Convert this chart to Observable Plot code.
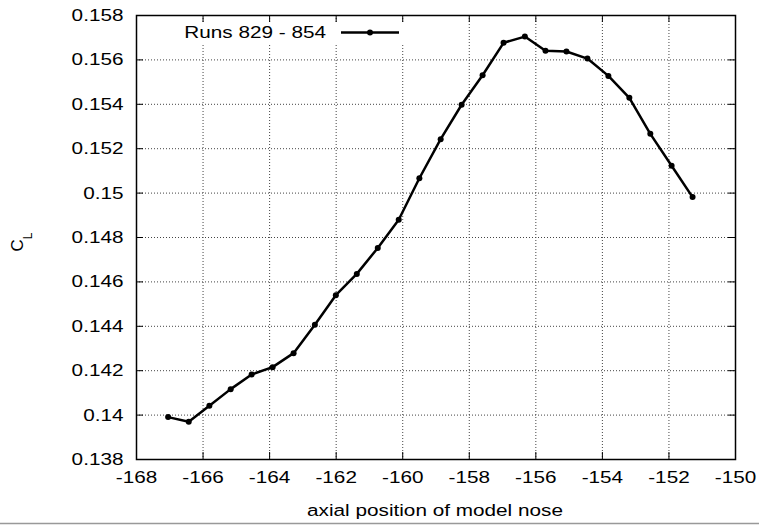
<!DOCTYPE html>
<html>
<head>
<meta charset="utf-8">
<script src="https://cdn.jsdelivr.net/npm/d3@7"></script>
<script src="https://cdn.jsdelivr.net/npm/@observablehq/plot@0.6"></script>
<style>
  html, body { margin: 0; padding: 0; background: #fff; }
  #chart svg { display: block; }
</style>
</head>
<body>
<div id="chart"></div>
<script>
const xPos = [-167.05, -166.43, -165.81, -165.17, -164.54, -163.91, -163.28, -162.64, -162.01, -161.38, -160.75, -160.12, -159.50, -158.86, -158.23, -157.60, -156.97, -156.33, -155.71, -155.08, -154.45, -153.82, -153.19, -152.56, -151.92, -151.29];
const cl = [0.13991, 0.13970, 0.14042, 0.14117, 0.14183, 0.14216, 0.14279, 0.14407, 0.14540, 0.14636, 0.14753, 0.14880, 0.15067, 0.15243, 0.15398, 0.15531, 0.15677, 0.15705, 0.15641, 0.15638, 0.15606, 0.15528, 0.15429, 0.15267, 0.15123, 0.14982];
const xTicks = [-168, -166, -164, -162, -160, -158, -156, -154, -152, -150];
const yTicks = [0.138, 0.14, 0.142, 0.144, 0.146, 0.148, 0.15, 0.152, 0.154, 0.156, 0.158];
const seriesName = "Runs 829 - 854";
const xLabel = "axial position of model nose";

const data = xPos.map((x, i) => ({x, y: cl[i]}));

const W = 759, H = 528;
const mL = 136, mR = 24, mT = 15, mB = 69;
const pw = W - mL - mR, ph = H - mT - mB;
const font = "Liberation Sans, Arial, sans-serif";
const fs = 17;
const stretch = "scale(1.22,1)";

const plot = Plot.plot({
  width: W, height: H,
  marginLeft: mL, marginRight: mR, marginTop: mT, marginBottom: mB,
  style: {fontFamily: font, fontSize: fs + "px", color: "#000", background: "#fff"},
  x: {domain: [-168, -150]},
  y: {domain: [0.138, 0.158]},
  marks: [
    Plot.gridX(xTicks.slice(1, -1), {stroke: "#444", strokeOpacity: 1, strokeDasharray: "1,2", strokeWidth: 1}),
    Plot.gridY(yTicks.slice(1, -1), {stroke: "#444", strokeOpacity: 1, strokeDasharray: "1,2", strokeWidth: 1}),
    Plot.tickX(xTicks, {x: d => d, insetTop: ph - 7, stroke: "#000", strokeWidth: 1}),
    Plot.tickX(xTicks, {x: d => d, insetBottom: ph - 7, stroke: "#000", strokeWidth: 1}),
    Plot.tickY(yTicks, {y: d => d, insetRight: pw - 7, stroke: "#000", strokeWidth: 1}),
    Plot.tickY(yTicks, {y: d => d, insetLeft: pw - 7, stroke: "#000", strokeWidth: 1}),
    Plot.axisX(xTicks, {tickSize: 0, tickPadding: 11, tickFormat: d => String(d), fontSize: fs, label: null}),
    Plot.axisY(yTicks, {tickSize: 0, tickPadding: 13, tickFormat: d => String(d), fontSize: fs, label: null}),
    Plot.frame({stroke: "#000", strokeWidth: 1.5}),
    Plot.line(data, {x: "x", y: "y", stroke: "#000", strokeWidth: 2.5}),
    Plot.dot(data, {x: "x", y: "y", fill: "#000", r: 3})
  ]
});

const svg = d3.select(plot);
// widen axis tick labels horizontally (reference text is horizontally stretched)
svg.selectAll("text").each(function() {
  const t = d3.select(this);
  const tr = t.attr("transform");
  if (tr) {
    t.attr("transform", tr + " " + stretch);
  } else {
    const x = +t.attr("x") || 0, y = +t.attr("y") || 0;
    t.attr("x", null).attr("y", null).attr("transform", `translate(${x},${y}) ${stretch}`);
  }
});

// legend
const lg = svg.append("g");
lg.append("rect").attr("x", 140).attr("y", 22).attr("width", 265).attr("height", 22).attr("fill", "#fff");
lg.append("text").attr("transform", `translate(326,32) ${stretch}`).attr("dy", "0.35em").attr("text-anchor", "end")
  .attr("font-family", font).attr("font-size", fs).attr("fill", "#000").text(seriesName);
lg.append("line").attr("x1", 341).attr("x2", 399).attr("y1", 32.5).attr("y2", 32.5)
  .attr("stroke", "#000").attr("stroke-width", 2.5);
lg.append("circle").attr("cx", 370).attr("cy", 32.5).attr("r", 3).attr("fill", "#000");

// x axis label
svg.append("text").attr("transform", `translate(435,516) ${stretch}`).attr("text-anchor", "middle")
  .attr("font-family", font).attr("font-size", fs).attr("fill", "#000").text(xLabel);

// y axis label C_L
const yl = svg.append("text").attr("transform", "translate(23,242) rotate(-90)")
  .attr("font-family", font).attr("font-size", fs).attr("fill", "#000");
yl.append("tspan").text("C");
yl.append("tspan").attr("dy", 9).attr("font-size", 12).text("L");

// bottom border line
svg.append("line").attr("x1", 0).attr("x2", W).attr("y1", 523.5).attr("y2", 523.5)
  .attr("stroke", "#999").attr("stroke-width", 1.5);

document.getElementById("chart").appendChild(plot);
</script>
</body>
</html>
